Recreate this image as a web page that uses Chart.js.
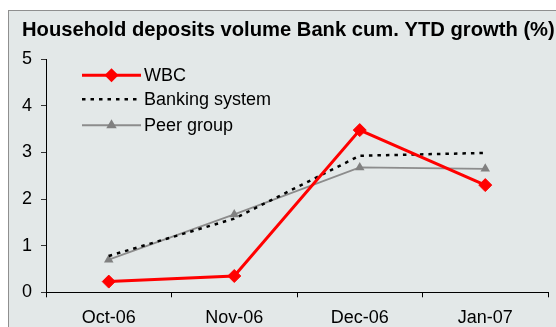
<!DOCTYPE html>
<html>
<head>
<meta charset="utf-8">
<title>Household deposits volume</title>
<script src="https://cdn.jsdelivr.net/npm/chart.js@4/dist/chart.umd.min.js"></script>
<style>
  html, body { margin: 0; padding: 0; background: #fff; overflow: hidden; }
  .panel {
    position: absolute; left: 8px; top: 10px;
    width: 600px; height: 400px;
    background: #e3e8e8; border: 1px solid #8f8f8f;
  }
  #chart { position: absolute; left: 0; top: 0; }
</style>
</head>
<body>
<div class="panel"></div>
<canvas id="chart" width="556" height="327"></canvas>
<script>
// ------------------------------
// Data
// ------------------------------
const months = ['Oct-06', 'Nov-06', 'Dec-06', 'Jan-07'];
const wbc = [0.23, 0.35, 3.48, 2.30];
const bankingSystem = [0.78, 1.58, 2.93, 2.99];
const peerGroup = [0.70, 1.67, 2.68, 2.65];
const yTicks = [0, 1, 2, 3, 4, 5];

const FONT = "'Liberation Sans', Arial, sans-serif";

// ------------------------------
// Legend drawn inside the plot area (line sample + marker)
// ------------------------------
function drawMarker(ctx, style, x, y, r, color) {
  ctx.save();
  ctx.fillStyle = color;
  ctx.beginPath();
  if (style === 'rectRot') {
    ctx.moveTo(x, y - r); ctx.lineTo(x + r, y); ctx.lineTo(x, y + r); ctx.lineTo(x - r, y);
  } else if (style === 'triangle') {
    const h = r * 1.5, w = r * 0.866;
    ctx.moveTo(x, y - r); ctx.lineTo(x + w, y + h - r); ctx.lineTo(x - w, y + h - r);
  }
  ctx.closePath();
  ctx.fill();
  ctx.restore();
}

const insideLegend = {
  id: 'insideLegend',
  afterDatasetsDraw(chart) {
    const { ctx, chartArea } = chart;
    const rows = [16, 40, 66];
    const x0 = chartArea.left + 36, x1 = chartArea.left + 95;
    chart.data.datasets.forEach((ds, i) => {
      const y = chartArea.top + rows[i];
      ctx.save();
      ctx.strokeStyle = ds.borderColor;
      ctx.lineWidth = ds.borderWidth;
      ctx.setLineDash(ds.borderDash || []);
      ctx.beginPath();
      ctx.moveTo(x0, y);
      ctx.lineTo(x1, y);
      ctx.stroke();
      ctx.restore();
      if (ds.pointRadius > 0) {
        drawMarker(ctx, ds.pointStyle, (x0 + x1) / 2, y, ds.pointRadius + 0.5, ds.pointBackgroundColor);
      }
      ctx.save();
      ctx.fillStyle = '#000';
      ctx.font = '18px ' + FONT;
      ctx.textBaseline = 'middle';
      ctx.fillText(ds.label, chartArea.left + 98, y + 0.5);
      ctx.restore();
    });
  }
};

new Chart(document.getElementById('chart'), {
  type: 'line',
  data: {
    labels: months,
    datasets: [
      {
        label: 'WBC',
        data: wbc,
        borderColor: '#ff0000',
        backgroundColor: '#ff0000',
        pointBackgroundColor: '#ff0000',
        pointBorderColor: '#ff0000',
        borderWidth: 3,
        pointStyle: 'rectRot',
        pointRadius: 6.5,
        pointBorderWidth: 1,
        tension: 0
      },
      {
        label: 'Banking system',
        data: bankingSystem,
        borderColor: '#000000',
        borderWidth: 2.5,
        borderDash: [3.5, 5],
        borderCapStyle: 'butt',
        pointRadius: 0,
        tension: 0
      },
      {
        label: 'Peer group',
        data: peerGroup,
        borderColor: '#8c8c8c',
        backgroundColor: '#808080',
        pointBackgroundColor: '#808080',
        pointBorderColor: '#808080',
        borderWidth: 1.8,
        pointStyle: 'triangle',
        pointRadius: 5.5,
        pointBorderWidth: 0,
        tension: 0
      }
    ]
  },
  options: {
    responsive: false,
    animation: false,
    layout: { padding: { left: 22, right: 0, top: 0, bottom: 0 } },
    plugins: {
      legend: { display: false },
      tooltip: { enabled: false },
      title: {
        display: true,
        text: 'Household deposits volume Bank cum. YTD growth (%)',
        align: 'start',
        color: '#000',
        font: { family: FONT, size: 20.2, weight: 'bold', lineHeight: 1.2 },
        padding: { top: 18.5, bottom: 16.5 }
      }
    },
    scales: {
      x: {
        offset: true,
        grid: { display: true, drawOnChartArea: false, drawTicks: true, tickLength: 5, color: '#000', offset: true },
        border: { display: true, color: '#000', width: 1 },
        ticks: { color: '#000', padding: 9.5, font: { family: FONT, size: 18 }, maxRotation: 0 },
        afterFit(scale) { scale.height = 34.7; }
      },
      y: {
        min: 0,
        max: 5,
        afterBuildTicks(scale) { scale.ticks = yTicks.map(v => ({ value: v })); },
        grid: { display: true, drawOnChartArea: false, drawTicks: true, tickLength: 5, color: '#333' },
        border: { display: true, color: '#000', width: 1 },
        ticks: { color: '#000', padding: 9, font: { family: FONT, size: 18 } },
        afterFit(scale) { scale.width = 24; }
      },
      // spacer on the right so the title can run past the plot area
      spacer: {
        position: 'right',
        display: true,
        grid: { display: false },
        border: { display: false },
        ticks: { display: false },
        afterFit(scale) { scale.width = 8; }
      }
    }
  },
  plugins: [insideLegend]
});
</script>
</body>
</html>
